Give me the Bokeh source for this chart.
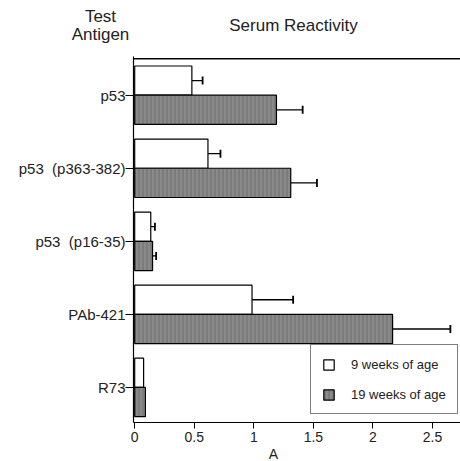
from bokeh.plotting import figure
from bokeh.models import (ColumnDataSource, FixedTicker, Label, Legend, LegendItem,
                          Range1d, Span, Whisker, TeeHead)
from bokeh.embed import file_html
from bokeh.resources import INLINE

antigens = ["p53", "p53\u00a0 (p363-382)", "p53\u00a0 (p16-35)", "PAb-421", "R73"]
wk9 = [0.48, 0.615, 0.135, 0.985, 0.075]
wk9_err = [0.57, 0.72, 0.17, 1.33, None]
wk19 = [1.19, 1.31, 0.15, 2.165, 0.09]
wk19_err = [1.41, 1.53, 0.18, 2.65, None]
x_ticks = [0, 0.5, 1, 1.5, 2, 2.5]

n = len(antigens)
pos = [n - 1 - i for i in range(n)]
BH = 0.4

FONT = "Liberation Sans"
TXT = "#222"

# ---- header with the titles
W = 460
HH = 56
header = figure(width=W, height=HH, output_backend="svg", toolbar_location=None,
                x_range=Range1d(0, W), y_range=Range1d(HH, 0),
                x_axis_location=None, y_axis_location=None,
                min_border=0, outline_line_color=None)
header.xgrid.visible = False
header.ygrid.visible = False

def hlab(fig, x, y, t, size="17px"):
    fig.add_layout(Label(x=x, y=y, text=t, text_font=FONT, text_font_size=size,
                         text_align="center", text_baseline="middle",
                         text_color=TXT))

hlab(header, 100, 16, "Test")
hlab(header, 100, 34, "Antigen")
hlab(header, 293, 25, "Serum Reactivity")

# ---- main chart
MB = 25
MH = 447 - HH
p = figure(width=W, height=MH, output_backend="svg", toolbar_location=None,
           x_range=Range1d(-0.01, 2.735), y_range=Range1d(-0.48, 4.53),
           min_border_left=133, min_border_right=0, min_border_top=0,
           min_border_bottom=MB)
p.outline_line_color = None
p.xgrid.visible = False
p.ygrid.visible = False

p.add_layout(Span(location=4.5, dimension="width", line_color="black",
                  line_width=1.5))

src9 = ColumnDataSource(dict(y=[v + BH / 2 for v in pos], right=wk9))
src19 = ColumnDataSource(dict(y=[v - BH / 2 for v in pos], right=wk19))

r9 = p.hbar(y="y", left=0, right="right", height=BH, source=src9,
            fill_color="white", line_color="black", line_width=1.2)
r19 = p.hbar(y="y", left=0, right="right", height=BH, source=src19,
             fill_color="#8a8a8a", line_color="black", line_width=1.2,
             hatch_pattern="|", hatch_color="#5a5a5a", hatch_scale=4,
             hatch_weight=1, hatch_alpha=0.6)

def whisk(vals, errs, offs):
    ys, lo, hi = [], [], []
    for v, e, y in zip(vals, errs, offs):
        if e is None:
            continue
        ys.append(y)
        lo.append(v)
        hi.append(e)
    s = ColumnDataSource(dict(y=ys, lower=lo, upper=hi))
    w = Whisker(source=s, base="y", lower="lower", upper="upper",
                dimension="width", line_color="black", line_width=1.3,
                lower_head=None,
                upper_head=TeeHead(size=8, line_color="black", line_width=1.8))
    p.add_layout(w)

whisk(wk9, wk9_err, [v + BH / 2 for v in pos])
whisk(wk19, wk19_err, [v - BH / 2 for v in pos])

p.xaxis.ticker = FixedTicker(ticks=x_ticks)
p.xaxis.major_label_overrides = {0: "0", 0.5: "0.5", 1: "1", 1.5: "1.5", 2: "2", 2.5: "2.5"}
p.xaxis.minor_tick_line_color = None
p.xaxis.major_tick_in = 0
p.xaxis.major_tick_out = 6
p.xaxis.axis_line_width = 1.2
p.xaxis.major_label_text_font = FONT
p.xaxis.major_label_text_font_size = "14px"
p.xaxis.major_label_text_color = TXT
p.xaxis.major_label_standoff = 3

p.yaxis.ticker = FixedTicker(ticks=pos)
p.yaxis.major_label_overrides = {pv: a for pv, a in zip(pos, antigens)}
p.yaxis.minor_tick_line_color = None
p.yaxis.major_tick_in = 0
p.yaxis.major_tick_out = 8
p.yaxis.axis_line_width = 1.2
p.yaxis.major_label_text_font = FONT
p.yaxis.major_label_text_font_size = "15px"
p.yaxis.major_label_text_color = TXT
p.yaxis.major_label_standoff = 0

legend = Legend(items=[LegendItem(label="9 weeks of age", renderers=[r9]),
                       LegendItem(label="19 weeks of age", renderers=[r19])],
                location=(177, 8), orientation="vertical",
                border_line_color="black", border_line_width=1.2,
                label_text_font=FONT, label_text_font_size="13px",
                label_text_color=TXT, label_height=16,
                glyph_width=13, glyph_height=13, label_standoff=16,
                spacing=14, padding=11, margin=0, background_fill_alpha=1)
p.add_layout(legend, "center")

# ---- footer with the x-axis title
FH = 461 - 447
footer = figure(width=W, height=FH, output_backend="svg", toolbar_location=None,
                x_range=Range1d(0, W), y_range=Range1d(FH, 0),
                x_axis_location=None, y_axis_location=None,
                min_border=0, outline_line_color=None)
footer.xgrid.visible = False
footer.ygrid.visible = False
hlab(footer, 273, 6, "A", "14px")

open("out.html", "w").write(file_html([header, p, footer], INLINE))
